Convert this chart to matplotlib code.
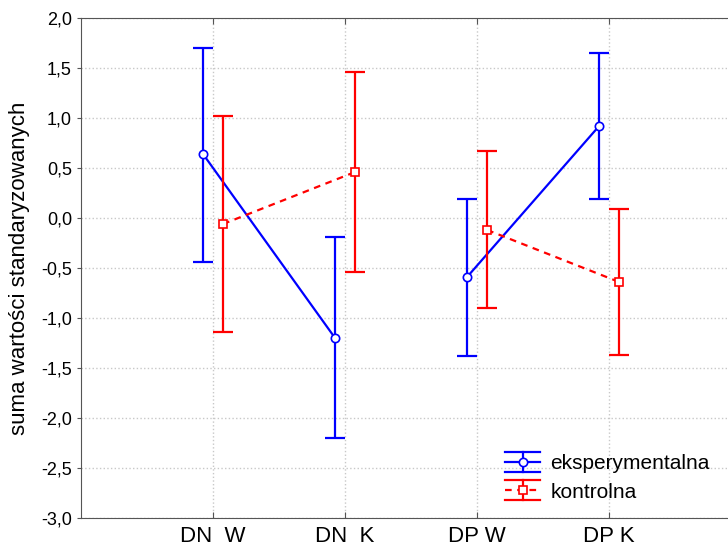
import matplotlib.pyplot as plt
from matplotlib.legend_handler import HandlerBase
from matplotlib.lines import Line2D
import numpy as np

plt.rcParams['font.family'] = ['Liberation Sans', 'DejaVu Sans']

# data
labels = ["DN  W", "DN  K", "DP W", "DP K"]
eksp_mean = [0.64, -1.20, -0.59, 0.92]
eksp_low = [-0.44, -2.20, -1.38, 0.19]
eksp_high = [1.70, -0.19, 0.19, 1.65]
kontr_mean = [-0.06, 0.46, -0.12, -0.64]
kontr_low = [-1.14, -0.54, -0.90, -1.37]
kontr_high = [1.02, 1.46, 0.67, 0.09]

x = np.arange(len(labels))
off = 0.076
DASH = (3, 2.5)


class ErrHandle:
    def __init__(self, color, marker, ls):
        self.color, self.marker, self.ls = color, marker, ls


class ErrHandler(HandlerBase):
    # legend glyph: wide caps above and below, line with marker in middle
    def create_artists(self, legend, h, xd, yd, w, ht, fs, trans):
        cy = ht / 2 - yd
        d = 7.2
        x0, x1 = -xd, w - xd
        xm = (x0 + x1) / 2
        arts = []
        for yy in (cy - d, cy + d):
            arts.append(Line2D([x0, x1], [yy, yy], color=h.color, lw=1.6))
        arts.append(Line2D([xm, xm], [cy - d, cy + d], color=h.color, lw=1.6))
        mid = Line2D([x0, x1], [cy, cy], color=h.color, lw=1.6)
        if h.ls == '--':
            mid.set_dashes(DASH)
        arts.append(mid)
        arts.append(Line2D([xm], [cy], ls='none', marker=h.marker, ms=6,
                           mfc='white', mec=h.color, mew=1.2))
        for a in arts:
            a.set_transform(trans)
        return arts


fig = plt.figure(figsize=(7.28, 5.46), dpi=100)
ax = fig.add_axes([81 / 728, 28 / 546, 1 - 81 / 728, 500 / 546])


def draw(mean, low, high, shift, color, marker, ls):
    mean = np.array(mean)
    err = [mean - np.array(low), np.array(high) - mean]
    xs = x + shift
    ax.errorbar(xs, mean, yerr=err, fmt='none', ecolor=color, elinewidth=1.6,
                capsize=7, capthick=1.6, zorder=3)
    # lines connect within each pair only
    for i in (0, 2):
        ln, = ax.plot(xs[i:i + 2], mean[i:i + 2], color=color, lw=1.6, zorder=3)
        if ls == '--':
            ln.set_dashes(DASH)
    ax.plot(xs, mean, ls='none', marker=marker, ms=6, mfc='white', mec=color,
            mew=1.2, zorder=4)
    return ErrHandle(color, marker, ls)


h1 = draw(eksp_mean, eksp_low, eksp_high, -off, 'blue', 'o', '-')
h2 = draw(kontr_mean, kontr_low, kontr_high, off, 'red', 's', '--')

ax.set_xlim(-1, 3.9)
ax.set_ylim(-3, 2)
ax.set_xticks(x)
ax.set_xticklabels(labels, fontsize=16)
yt = np.arange(-3, 2.01, 0.5)
ax.set_yticks(yt)
ax.set_yticklabels([f"{v:.1f}".replace('.', ',') for v in yt], fontsize=13)
ax.set_ylabel("suma wartości standaryzowanych", fontsize=16, labelpad=8)

ax.grid(True, color='#c8c8c8', ls=':', lw=1)
ax.set_axisbelow(True)
ax.tick_params(direction='in', top=True, length=4, color='#555555')
ax.tick_params(axis='y', direction='out', length=3)
ax.tick_params(axis='x', pad=6)
for s in ax.spines.values():
    s.set_color('#555555')
ax.spines['right'].set_visible(False)

ax.legend(handles=[h1, h2], labels=['eksperymentalna', 'kontrolna'],
          handler_map={ErrHandle: ErrHandler()},
          loc='lower left', bbox_to_anchor=(0.656, 0.033),
          frameon=False, fontsize=15, handlelength=1.65, handletextpad=0.5,
          labelspacing=0.45, borderaxespad=0, borderpad=0)

fig.savefig("out.png", dpi=100)
